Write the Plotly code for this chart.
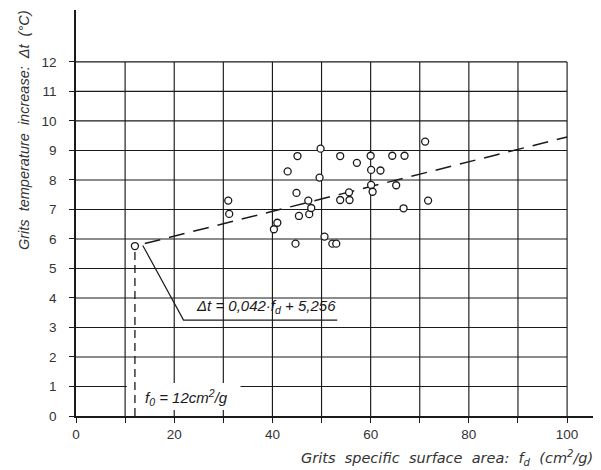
import plotly.graph_objects as go

# ---- data ----
fd = [12.0, 31.0, 31.2, 40.3, 41.0, 43.1, 44.7, 44.9, 45.1, 45.4,
      47.3, 47.5, 47.9, 49.6, 49.8, 50.6, 52.2, 53.0, 53.8, 53.8,
      55.6, 55.7, 57.2, 60.0, 60.1, 60.1, 60.4, 62.0, 64.4, 65.2,
      66.7, 66.9, 71.1, 71.7]
dt = [5.76, 7.30, 6.85, 6.33, 6.55, 8.29, 5.84, 7.56, 8.81, 6.78,
      7.30, 6.84, 7.05, 8.08, 9.06, 6.08, 5.84, 5.84, 8.81, 7.32,
      7.58, 7.32, 8.58, 8.82, 8.34, 7.83, 7.60, 8.32, 8.82, 7.82,
      7.04, 8.82, 9.30, 7.30]

slope = 0.042
intercept = 5.256
fit_range = [14.0, 100.0]
f0 = 12.0

x_ticks = list(range(0, 101, 10))
x_ticktext = ["0", "", "20", "", "40", "", "60", "", "80", "", "100"]
y_ticks = list(range(0, 13))
y_ticktext = [str(v) for v in y_ticks]

FONT = "Liberation Sans"
TFONT = "DejaVu Sans"
INK = "#1a1a1a"
SP = "\u00a0\u00a0"

# the page body has an 8px margin, so the figure starts at (8, 8)
OFF = 8
PAGE_W, PAGE_H = 601, 470
W, H = PAGE_W - OFF, PAGE_H - OFF
ML, MR, MT, MB = 76 - OFF, 2, 10 - OFF, 54
pw, ph = W - ML - MR, H - MT - MB


def px_x(p):  # page pixel -> paper x
    return (p - OFF - ML) / pw


def px_y(p):  # page pixel -> paper y
    return (H - MB - (p - OFF)) / ph


fig = go.Figure()

# regression (dashed)
fit_y = [slope * x + intercept for x in fit_range]
fig.add_trace(go.Scatter(x=fit_range, y=fit_y, mode="lines",
                         line=dict(color=INK, width=1.5, dash="16px,9px"),
                         hoverinfo="skip", showlegend=False))

# f0 vertical dashed line
f0_y = slope * f0 + intercept
fig.add_trace(go.Scatter(x=[f0, f0], y=[f0_y - 0.2, -0.2], mode="lines",
                         line=dict(color=INK, width=1.3, dash="8px,5px"),
                         hoverinfo="skip", showlegend=False, cliponaxis=False))

# measured points
fig.add_trace(go.Scatter(x=fd, y=dt, mode="markers",
                         marker=dict(symbol="circle", size=7, color="white",
                                     line=dict(color=INK, width=1.3)),
                         showlegend=False))

shapes = []
# grid (only up to x=100, y=12)
for xv in x_ticks[1:]:
    shapes.append(dict(type="line", x0=xv, x1=xv, y0=0, y1=12, layer="below",
                       line=dict(color=INK, width=1.15)))
for yv in y_ticks[1:]:
    shapes.append(dict(type="line", x0=0, x1=100, y0=yv, y1=yv, layer="below",
                       line=dict(color=INK, width=1.15)))
# white box behind the f0 label (interrupts the grid there)
shapes.append(dict(type="rect", x0=10.35, x1=33.5, y0=0.2, y1=1.12,
                   layer="below", fillcolor="white", line=dict(width=0)))
# leader line for the equation
shapes.append(dict(type="path", path="M 13.6,5.78 L 21.9,3.25 L 53.2,3.25",
                   line=dict(color=INK, width=1.2)))

annotations = [
    # axis arrowheads
    dict(x=106.6, y=0, ax=-14, ay=0, xref="x", yref="y", showarrow=True,
         arrowhead=2, arrowsize=1, arrowwidth=1.6, arrowcolor=INK, text=""),
    dict(x=0, y=13.8, ax=0, ay=14, xref="x", yref="y", showarrow=True,
         arrowhead=2, arrowsize=1, arrowwidth=1.6, arrowcolor=INK, text=""),
    # equation
    dict(x=38.7, y=3.25, yshift=2, xref="x", yref="y", showarrow=False,
         text="<i>\u0394t = 0,042\u00b7f<sub>d</sub> + 5,256</i>",
         font=dict(family=FONT, size=15, color=INK),
         xanchor="center", yanchor="bottom"),
    # f0 label
    dict(x=13.6, y=0.62, xref="x", yref="y", showarrow=False,
         text="<i>f<sub>0</sub> = 12cm<sup>2</sup>/g</i>",
         font=dict(family=FONT, size=15, color=INK),
         xanchor="left", yanchor="middle"),
    # axis titles
    dict(x=px_x(595), y=px_y(458), xref="paper", yref="paper", showarrow=False,
         text="<i>Grits  specific  surface  area:  f<sub>d</sub>  (cm<sup>2</sup>/g)</i>",
         font=dict(family=TFONT, size=14.5, color="#333"),
         xanchor="right", yanchor="middle"),
    dict(x=px_x(24), y=px_y(130), xref="paper", yref="paper", showarrow=False,
         textangle=-90,
         text="<i>Grits" + SP + "temperature" + SP + "increase:" + SP
              + "\u0394t" + SP + "(\u00b0C)</i>",
         font=dict(family=FONT, size=14.5, color="#333"),
         xanchor="center", yanchor="middle"),
]

fig.update_layout(
    width=W, height=H,
    margin=dict(l=ML, r=MR, t=MT, b=MB, autoexpand=False),
    paper_bgcolor="white", plot_bgcolor="white",
    shapes=shapes, annotations=annotations,
    xaxis=dict(range=[0, 106.5], tickvals=x_ticks, ticktext=x_ticktext,
               showgrid=False, zeroline=False, showline=True, linecolor=INK,
               linewidth=1.6, ticks="outside", ticklen=5, tickcolor=INK,
               tickwidth=1.1, automargin=False,
               tickfont=dict(family=FONT, size=13.5, color="#333"),
               fixedrange=True),
    yaxis=dict(range=[0, 13.76], tickvals=y_ticks, ticktext=y_ticktext,
               showgrid=False, zeroline=False, showline=True, linecolor=INK,
               linewidth=1.6, ticks="outside", ticklen=5, tickcolor=INK,
               tickwidth=1.1, ticklabelstandoff=10, automargin=False,
               tickfont=dict(family=FONT, size=13.5, color="#333"),
               fixedrange=True),
)
fig.update_xaxes(tickprefix="<i>", ticksuffix="</i>")
fig.update_yaxes(tickprefix="<i>", ticksuffix="</i>")

fig.write_html("out.html")
